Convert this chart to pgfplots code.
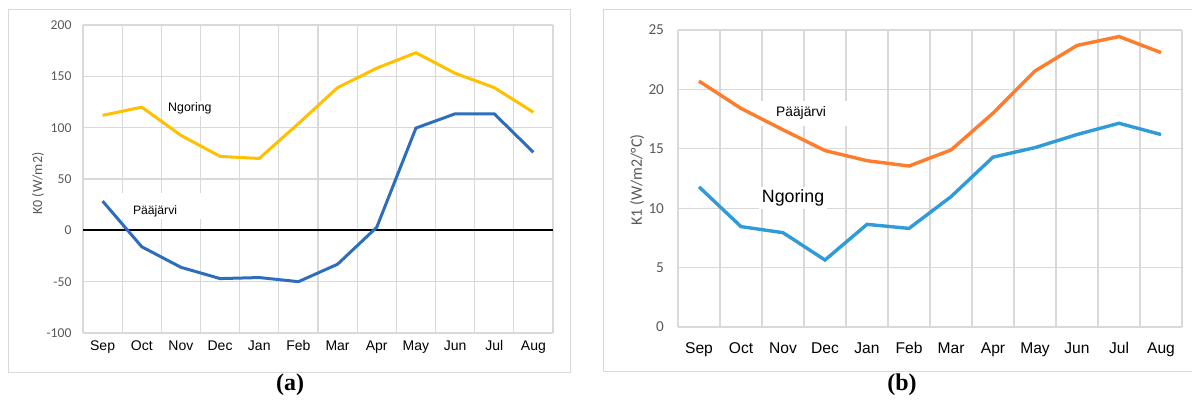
\documentclass[border=0pt]{standalone}
\usepackage{pgfplots}
\pgfplotsset{compat=1.18}
\usepackage{fontspec}
\setmainfont{Liberation Sans}
\newfontfamily\carlito{Carlito}
\newfontfamily\lserif{Liberation Serif}
\definecolor{gridc}{HTML}{D9D9D9}
\definecolor{tickc}{HTML}{595959}
\definecolor{ngyel}{HTML}{FFC000}
\definecolor{pablue}{HTML}{2C6EBB}
\definecolor{paorange}{HTML}{FF7C2A}
\definecolor{ngblue}{HTML}{2F9BD8}

\pgfplotsset{
  excelpanel/.style={
    scale only axis,
    anchor=south west,
    /pgf/number format/assume math mode=true,
    xmin=0, xmax=12,
    xtick={0.5,1.5,...,11.5},
    xticklabels={Sep,Oct,Nov,Dec,Jan,Feb,Mar,Apr,May,Jun,Jul,Aug},
    minor xtick={0,1,...,12},
    xminorgrids=true, xmajorgrids=false, ymajorgrids=true,
    grid style={gridc, line width=0.6pt},
    minor grid style={gridc, line width=0.6pt},
    axis line style={draw=none},
    major tick length=0pt, minor tick length=0pt,
    yticklabel style={anchor=east, inner sep=0pt, text=tickc},
    xticklabel style={anchor=base, inner sep=0pt},
    clip=false,
  },
}

\begin{document}
\begin{tikzpicture}
\path[use as bounding box] (0,0) rectangle (596pt,-202.5pt);
\draw[gridc, line width=0.5pt] (4pt,-5pt) rectangle (285pt,-186pt);
\draw[gridc, line width=0.5pt] (301.5pt,-5pt) rectangle (597pt,-185.5pt);

% (a) K0
\begin{axis}[excelpanel,
  at={(41.5pt,-166.5pt)}, width=235pt, height=154pt,
  ymin=-100, ymax=200, ytick={-100,-50,...,200},
  yticklabel style={xshift=-5.6pt, font=\carlito\fontsize{6.8}{8}\selectfont},
  xticklabel style={yshift=-8.85pt, font=\fontsize{7}{8}\selectfont},
  ylabel={K0 (W/m2)},
  ylabel style={at={(axis description cs:-0.096,0.485)}, rotate=0, anchor=center,
    font=\carlito\fontsize{7}{8}\selectfont, text=tickc},
]
\node[fill=white, minimum width=42pt, minimum height=13pt, inner sep=0pt] at (axis cs:2.04,23.4) {};
\node[fill=white, inner sep=1pt] at (axis cs:2.73,118.8) {\fontsize{6.2}{7}\selectfont Ngoring};
\node[inner sep=0pt] at (axis cs:1.84,18.5) {\fontsize{6.1}{7}\selectfont Pääjärvi};
\addplot[black, line width=0.9pt] coordinates {(0,0) (12,0)};
\addplot[ngyel, line width=1.5pt] coordinates {
  (0.5,112) (1.5,120) (2.5,92.5) (3.5,72) (4.5,70) (5.5,104)
  (6.5,139) (7.5,158) (8.5,173) (9.5,153) (10.5,139) (11.5,115)
};
\addplot[pablue, line width=1.5pt] coordinates {
  (0.5,28.5) (1.5,-16) (2.5,-36) (3.5,-47) (4.5,-46) (5.5,-50)
  (6.5,-33) (7.5,3) (8.5,99.6) (9.5,113.5) (10.5,113.5) (11.5,76)
};
\end{axis}

% (b) K1
\begin{axis}[excelpanel,
  at={(339pt,-163.5pt)}, width=252pt, height=148.5pt,
  ymin=0, ymax=25, ytick={0,5,...,25},
  yticklabel style={xshift=-6.85pt, font=\carlito\fontsize{7.6}{9}\selectfont},
  xticklabel style={yshift=-13.2pt, font=\fontsize{7.8}{9}\selectfont},
  ylabel={K1 (W/m2/°C)},
  ylabel style={at={(axis description cs:-0.0813,0.495)}, rotate=0, anchor=center,
    font=\carlito\fontsize{8}{9}\selectfont, text=tickc},
]
\node[fill=white, minimum width=50pt, minimum height=12.5pt, inner sep=0pt] at (axis cs:2.93,18.0) {\fontsize{6.9}{8}\selectfont Pääjärvi};
\node[fill=white, inner sep=1.5pt] at (axis cs:2.74,10.86) {\fontsize{8.9}{10}\selectfont Ngoring};
\addplot[paorange, line width=1.7pt] coordinates {
  (0.5,20.7) (1.5,18.4) (2.5,16.6) (3.5,14.85) (4.5,14.0) (5.5,13.55)
  (6.5,14.9) (7.5,18.0) (8.5,21.55) (9.5,23.7) (10.5,24.45) (11.5,23.1)
};
\addplot[ngblue, line width=1.7pt] coordinates {
  (0.5,11.8) (1.5,8.45) (2.5,7.94) (3.5,5.64) (4.5,8.64) (5.5,8.3)
  (6.5,10.97) (7.5,14.3) (8.5,15.1) (9.5,16.2) (10.5,17.15) (11.5,16.2)
};
\end{axis}

\node at (145pt,-192.5pt) {\lserif\bfseries\fontsize{12}{14}\selectfont (a)};
\node at (451pt,-192.5pt) {\lserif\bfseries\fontsize{12}{14}\selectfont (b)};
\end{tikzpicture}
\end{document}
